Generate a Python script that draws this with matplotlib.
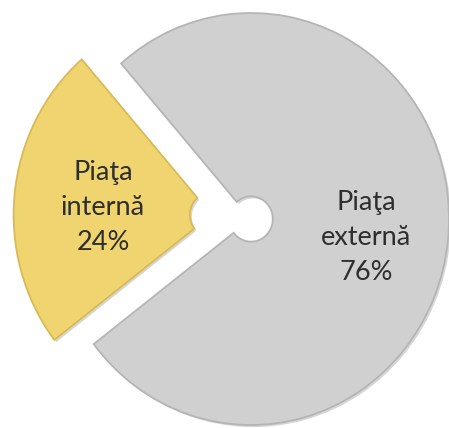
import matplotlib
matplotlib.use("Agg")
import matplotlib.pyplot as plt
import matplotlib.patheffects as pe
import numpy as np

categories = ["Piaţa\ninternă", "Piaţa\nexternă"]
values = [24, 76]
colors = ["#efd46f", "#d0d0d0"]
edge_colors = ["#d8bb58", "#b5b5b5"]

# label placement relative to each wedge's centre: (distance, angle offset in deg)
label_pos = [(0.55, 2.0), (0.59, -3.0)]

fig = plt.figure(figsize=(4.49, 4.28), dpi=100)
ax = fig.add_axes([0, 0, 1, 1])

wedges, _ = ax.pie(values, colors=colors, explode=[0.2, 0], startangle=131,
                   counterclock=True, radius=1.0,
                   wedgeprops=dict(width=0.89, linewidth=1.3))
for w, ec in zip(wedges, edge_colors):
    w.set_edgecolor(ec)
    w.set_path_effects([pe.SimplePatchShadow(offset=(1.5, -1.5), shadow_rgbFace='#8a8a8a', alpha=0.35),
                        pe.Normal()])

cx_px, cy_px, rx_px, ry_px = 251, 219, 198, 206
ax.set_aspect('auto')
ax.set_xlim(-cx_px/rx_px, (449-cx_px)/rx_px)
ax.set_ylim(-(428-cy_px)/ry_px, cy_px/ry_px)
ax.axis('off')

for w, cat, v, (d, off) in zip(wedges, categories, values, label_pos):
    mid = np.deg2rad((w.theta1 + w.theta2) / 2 + off)
    cx, cy = w.center
    ax.text(cx + d*np.cos(mid), cy + d*np.sin(mid), f"{cat}\n{v}%",
            ha='center', va='center', fontsize=19.5, linespacing=1.5,
            color='#2e2e2e', family=['Lato', 'DejaVu Sans'])

fig.savefig("out.png", dpi=100)
